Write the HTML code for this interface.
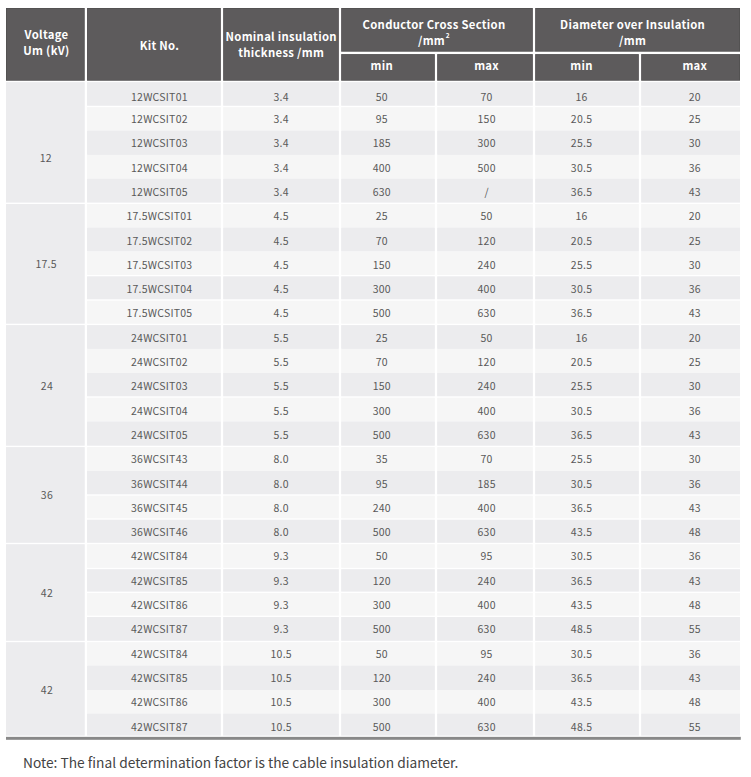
<!DOCTYPE html>
<html><head><meta charset="utf-8"><style>
html,body{margin:0;padding:0;background:#fff;width:751px;height:777px;overflow:hidden;position:relative}
.bg{position:absolute;left:0;top:0}
.t{position:absolute;width:120px;text-align:center;height:0;line-height:0;font-family:"Noto Sans CJK SC","Liberation Sans",sans-serif;font-size:10.5px;letter-spacing:0.25px;text-indent:0.25px;color:#595959;white-space:nowrap}
.h{position:absolute;width:200px;text-align:center;font-family:"Noto Sans CJK SC","Liberation Sans",sans-serif;font-weight:bold;color:#fff;font-size:11.3px;letter-spacing:0.3px;line-height:15.8px;white-space:nowrap}
.h sup{font-size:6.5px;vertical-align:baseline;position:relative;top:-7.4px;margin-left:0.8px;line-height:0}
.note{position:absolute;left:23px;top:752px;font-family:"Noto Sans CJK SC","Liberation Sans",sans-serif;font-size:13.75px;color:#444;white-space:nowrap;line-height:20px}
</style></head><body>
<svg class="bg" width="751" height="777" viewBox="0 0 751 777"><rect x="6.00" y="8.00" width="78.75" height="72.75" fill="#525051"/><rect x="6.80" y="8.80" width="77.15" height="71.15" fill="#5d5b5c"/><rect x="87.05" y="8.00" width="133.80" height="72.75" fill="#525051"/><rect x="87.85" y="8.80" width="132.20" height="71.15" fill="#5d5b5c"/><rect x="223.15" y="8.00" width="115.70" height="72.75" fill="#525051"/><rect x="223.95" y="8.80" width="114.10" height="71.15" fill="#5d5b5c"/><rect x="341.15" y="8.00" width="191.70" height="43.70" fill="#525051"/><rect x="341.95" y="8.80" width="190.10" height="42.10" fill="#5d5b5c"/><rect x="535.15" y="8.00" width="204.85" height="43.70" fill="#525051"/><rect x="535.95" y="8.80" width="203.25" height="42.10" fill="#5d5b5c"/><rect x="341.15" y="54.10" width="93.70" height="26.65" fill="#525051"/><rect x="341.95" y="54.90" width="92.10" height="25.05" fill="#5d5b5c"/><rect x="437.15" y="54.10" width="95.70" height="26.65" fill="#525051"/><rect x="437.95" y="54.90" width="94.10" height="25.05" fill="#5d5b5c"/><rect x="535.15" y="54.10" width="103.70" height="26.65" fill="#525051"/><rect x="535.95" y="54.90" width="102.10" height="25.05" fill="#5d5b5c"/><rect x="641.15" y="54.10" width="98.85" height="26.65" fill="#525051"/><rect x="641.95" y="54.90" width="97.25" height="25.05" fill="#5d5b5c"/><rect x="6.00" y="82.15" width="78.75" height="120.45" fill="#ececee"/><rect x="87.05" y="82.15" width="133.80" height="23.60" fill="#ececee"/><rect x="223.15" y="82.15" width="115.70" height="23.60" fill="#ececee"/><rect x="341.15" y="82.15" width="93.70" height="23.60" fill="#ececee"/><rect x="437.15" y="82.15" width="95.70" height="23.60" fill="#ececee"/><rect x="535.15" y="82.15" width="103.70" height="23.60" fill="#ececee"/><rect x="641.15" y="82.15" width="98.85" height="23.60" fill="#ececee"/><rect x="87.05" y="107.15" width="133.80" height="23.45" fill="#f6f6f6"/><rect x="223.15" y="107.15" width="115.70" height="23.45" fill="#f6f6f6"/><rect x="341.15" y="107.15" width="93.70" height="23.45" fill="#f6f6f6"/><rect x="437.15" y="107.15" width="95.70" height="23.45" fill="#f6f6f6"/><rect x="535.15" y="107.15" width="103.70" height="23.45" fill="#f6f6f6"/><rect x="641.15" y="107.15" width="98.85" height="23.45" fill="#f6f6f6"/><rect x="87.05" y="130.60" width="133.80" height="24.30" fill="#ececee"/><rect x="223.15" y="130.60" width="115.70" height="24.30" fill="#ececee"/><rect x="341.15" y="130.60" width="93.70" height="24.30" fill="#ececee"/><rect x="437.15" y="130.60" width="95.70" height="24.30" fill="#ececee"/><rect x="535.15" y="130.60" width="103.70" height="24.30" fill="#ececee"/><rect x="641.15" y="130.60" width="98.85" height="24.30" fill="#ececee"/><rect x="87.05" y="154.90" width="133.80" height="23.80" fill="#f6f6f6"/><rect x="223.15" y="154.90" width="115.70" height="23.80" fill="#f6f6f6"/><rect x="341.15" y="154.90" width="93.70" height="23.80" fill="#f6f6f6"/><rect x="437.15" y="154.90" width="95.70" height="23.80" fill="#f6f6f6"/><rect x="535.15" y="154.90" width="103.70" height="23.80" fill="#f6f6f6"/><rect x="641.15" y="154.90" width="98.85" height="23.80" fill="#f6f6f6"/><rect x="87.05" y="178.70" width="133.80" height="23.90" fill="#ececee"/><rect x="223.15" y="178.70" width="115.70" height="23.90" fill="#ececee"/><rect x="341.15" y="178.70" width="93.70" height="23.90" fill="#ececee"/><rect x="437.15" y="178.70" width="95.70" height="23.90" fill="#ececee"/><rect x="535.15" y="178.70" width="103.70" height="23.90" fill="#ececee"/><rect x="641.15" y="178.70" width="98.85" height="23.90" fill="#ececee"/><rect x="6.00" y="204.00" width="78.75" height="119.70" fill="#ececee"/><rect x="87.05" y="204.00" width="133.80" height="23.60" fill="#f6f6f6"/><rect x="223.15" y="204.00" width="115.70" height="23.60" fill="#f6f6f6"/><rect x="341.15" y="204.00" width="93.70" height="23.60" fill="#f6f6f6"/><rect x="437.15" y="204.00" width="95.70" height="23.60" fill="#f6f6f6"/><rect x="535.15" y="204.00" width="103.70" height="23.60" fill="#f6f6f6"/><rect x="641.15" y="204.00" width="98.85" height="23.60" fill="#f6f6f6"/><rect x="87.05" y="227.60" width="133.80" height="23.90" fill="#ececee"/><rect x="223.15" y="227.60" width="115.70" height="23.90" fill="#ececee"/><rect x="341.15" y="227.60" width="93.70" height="23.90" fill="#ececee"/><rect x="437.15" y="227.60" width="95.70" height="23.90" fill="#ececee"/><rect x="535.15" y="227.60" width="103.70" height="23.90" fill="#ececee"/><rect x="641.15" y="227.60" width="98.85" height="23.90" fill="#ececee"/><rect x="87.05" y="251.50" width="133.80" height="23.40" fill="#f6f6f6"/><rect x="223.15" y="251.50" width="115.70" height="23.40" fill="#f6f6f6"/><rect x="341.15" y="251.50" width="93.70" height="23.40" fill="#f6f6f6"/><rect x="437.15" y="251.50" width="95.70" height="23.40" fill="#f6f6f6"/><rect x="535.15" y="251.50" width="103.70" height="23.40" fill="#f6f6f6"/><rect x="641.15" y="251.50" width="98.85" height="23.40" fill="#f6f6f6"/><rect x="87.05" y="276.30" width="133.80" height="23.00" fill="#ececee"/><rect x="223.15" y="276.30" width="115.70" height="23.00" fill="#ececee"/><rect x="341.15" y="276.30" width="93.70" height="23.00" fill="#ececee"/><rect x="437.15" y="276.30" width="95.70" height="23.00" fill="#ececee"/><rect x="535.15" y="276.30" width="103.70" height="23.00" fill="#ececee"/><rect x="641.15" y="276.30" width="98.85" height="23.00" fill="#ececee"/><rect x="87.05" y="300.70" width="133.80" height="23.00" fill="#f6f6f6"/><rect x="223.15" y="300.70" width="115.70" height="23.00" fill="#f6f6f6"/><rect x="341.15" y="300.70" width="93.70" height="23.00" fill="#f6f6f6"/><rect x="437.15" y="300.70" width="95.70" height="23.00" fill="#f6f6f6"/><rect x="535.15" y="300.70" width="103.70" height="23.00" fill="#f6f6f6"/><rect x="641.15" y="300.70" width="98.85" height="23.00" fill="#f6f6f6"/><rect x="6.00" y="325.10" width="78.75" height="120.60" fill="#ececee"/><rect x="87.05" y="325.10" width="133.80" height="23.80" fill="#ececee"/><rect x="223.15" y="325.10" width="115.70" height="23.80" fill="#ececee"/><rect x="341.15" y="325.10" width="93.70" height="23.80" fill="#ececee"/><rect x="437.15" y="325.10" width="95.70" height="23.80" fill="#ececee"/><rect x="535.15" y="325.10" width="103.70" height="23.80" fill="#ececee"/><rect x="641.15" y="325.10" width="98.85" height="23.80" fill="#ececee"/><rect x="87.05" y="348.90" width="133.80" height="24.10" fill="#f6f6f6"/><rect x="223.15" y="348.90" width="115.70" height="24.10" fill="#f6f6f6"/><rect x="341.15" y="348.90" width="93.70" height="24.10" fill="#f6f6f6"/><rect x="437.15" y="348.90" width="95.70" height="24.10" fill="#f6f6f6"/><rect x="535.15" y="348.90" width="103.70" height="24.10" fill="#f6f6f6"/><rect x="641.15" y="348.90" width="98.85" height="24.10" fill="#f6f6f6"/><rect x="87.05" y="373.00" width="133.80" height="23.30" fill="#ececee"/><rect x="223.15" y="373.00" width="115.70" height="23.30" fill="#ececee"/><rect x="341.15" y="373.00" width="93.70" height="23.30" fill="#ececee"/><rect x="437.15" y="373.00" width="95.70" height="23.30" fill="#ececee"/><rect x="535.15" y="373.00" width="103.70" height="23.30" fill="#ececee"/><rect x="641.15" y="373.00" width="98.85" height="23.30" fill="#ececee"/><rect x="87.05" y="397.70" width="133.80" height="23.70" fill="#f6f6f6"/><rect x="223.15" y="397.70" width="115.70" height="23.70" fill="#f6f6f6"/><rect x="341.15" y="397.70" width="93.70" height="23.70" fill="#f6f6f6"/><rect x="437.15" y="397.70" width="95.70" height="23.70" fill="#f6f6f6"/><rect x="535.15" y="397.70" width="103.70" height="23.70" fill="#f6f6f6"/><rect x="641.15" y="397.70" width="98.85" height="23.70" fill="#f6f6f6"/><rect x="87.05" y="421.40" width="133.80" height="24.30" fill="#ececee"/><rect x="223.15" y="421.40" width="115.70" height="24.30" fill="#ececee"/><rect x="341.15" y="421.40" width="93.70" height="24.30" fill="#ececee"/><rect x="437.15" y="421.40" width="95.70" height="24.30" fill="#ececee"/><rect x="535.15" y="421.40" width="103.70" height="24.30" fill="#ececee"/><rect x="641.15" y="421.40" width="98.85" height="24.30" fill="#ececee"/><rect x="6.00" y="447.10" width="78.75" height="95.70" fill="#ececee"/><rect x="87.05" y="447.10" width="133.80" height="23.90" fill="#f6f6f6"/><rect x="223.15" y="447.10" width="115.70" height="23.90" fill="#f6f6f6"/><rect x="341.15" y="447.10" width="93.70" height="23.90" fill="#f6f6f6"/><rect x="437.15" y="447.10" width="95.70" height="23.90" fill="#f6f6f6"/><rect x="535.15" y="447.10" width="103.70" height="23.90" fill="#f6f6f6"/><rect x="641.15" y="447.10" width="98.85" height="23.90" fill="#f6f6f6"/><rect x="87.05" y="471.00" width="133.80" height="23.30" fill="#ececee"/><rect x="223.15" y="471.00" width="115.70" height="23.30" fill="#ececee"/><rect x="341.15" y="471.00" width="93.70" height="23.30" fill="#ececee"/><rect x="437.15" y="471.00" width="95.70" height="23.30" fill="#ececee"/><rect x="535.15" y="471.00" width="103.70" height="23.30" fill="#ececee"/><rect x="641.15" y="471.00" width="98.85" height="23.30" fill="#ececee"/><rect x="87.05" y="495.70" width="133.80" height="22.60" fill="#f6f6f6"/><rect x="223.15" y="495.70" width="115.70" height="22.60" fill="#f6f6f6"/><rect x="341.15" y="495.70" width="93.70" height="22.60" fill="#f6f6f6"/><rect x="437.15" y="495.70" width="95.70" height="22.60" fill="#f6f6f6"/><rect x="535.15" y="495.70" width="103.70" height="22.60" fill="#f6f6f6"/><rect x="641.15" y="495.70" width="98.85" height="22.60" fill="#f6f6f6"/><rect x="87.05" y="519.70" width="133.80" height="23.10" fill="#ececee"/><rect x="223.15" y="519.70" width="115.70" height="23.10" fill="#ececee"/><rect x="341.15" y="519.70" width="93.70" height="23.10" fill="#ececee"/><rect x="437.15" y="519.70" width="95.70" height="23.10" fill="#ececee"/><rect x="535.15" y="519.70" width="103.70" height="23.10" fill="#ececee"/><rect x="641.15" y="519.70" width="98.85" height="23.10" fill="#ececee"/><rect x="6.00" y="544.20" width="78.75" height="96.60" fill="#ececee"/><rect x="87.05" y="544.20" width="133.80" height="23.60" fill="#f6f6f6"/><rect x="223.15" y="544.20" width="115.70" height="23.60" fill="#f6f6f6"/><rect x="341.15" y="544.20" width="93.70" height="23.60" fill="#f6f6f6"/><rect x="437.15" y="544.20" width="95.70" height="23.60" fill="#f6f6f6"/><rect x="535.15" y="544.20" width="103.70" height="23.60" fill="#f6f6f6"/><rect x="641.15" y="544.20" width="98.85" height="23.60" fill="#f6f6f6"/><rect x="87.05" y="569.20" width="133.80" height="22.40" fill="#ececee"/><rect x="223.15" y="569.20" width="115.70" height="22.40" fill="#ececee"/><rect x="341.15" y="569.20" width="93.70" height="22.40" fill="#ececee"/><rect x="437.15" y="569.20" width="95.70" height="22.40" fill="#ececee"/><rect x="535.15" y="569.20" width="103.70" height="22.40" fill="#ececee"/><rect x="641.15" y="569.20" width="98.85" height="22.40" fill="#ececee"/><rect x="87.05" y="593.00" width="133.80" height="22.60" fill="#f6f6f6"/><rect x="223.15" y="593.00" width="115.70" height="22.60" fill="#f6f6f6"/><rect x="341.15" y="593.00" width="93.70" height="22.60" fill="#f6f6f6"/><rect x="437.15" y="593.00" width="95.70" height="22.60" fill="#f6f6f6"/><rect x="535.15" y="593.00" width="103.70" height="22.60" fill="#f6f6f6"/><rect x="641.15" y="593.00" width="98.85" height="22.60" fill="#f6f6f6"/><rect x="87.05" y="617.00" width="133.80" height="23.80" fill="#ececee"/><rect x="223.15" y="617.00" width="115.70" height="23.80" fill="#ececee"/><rect x="341.15" y="617.00" width="93.70" height="23.80" fill="#ececee"/><rect x="437.15" y="617.00" width="95.70" height="23.80" fill="#ececee"/><rect x="535.15" y="617.00" width="103.70" height="23.80" fill="#ececee"/><rect x="641.15" y="617.00" width="98.85" height="23.80" fill="#ececee"/><rect x="6.00" y="642.20" width="78.75" height="93.40" fill="#ececee"/><rect x="87.05" y="642.20" width="133.80" height="23.40" fill="#f6f6f6"/><rect x="223.15" y="642.20" width="115.70" height="23.40" fill="#f6f6f6"/><rect x="341.15" y="642.20" width="93.70" height="23.40" fill="#f6f6f6"/><rect x="437.15" y="642.20" width="95.70" height="23.40" fill="#f6f6f6"/><rect x="535.15" y="642.20" width="103.70" height="23.40" fill="#f6f6f6"/><rect x="641.15" y="642.20" width="98.85" height="23.40" fill="#f6f6f6"/><rect x="87.05" y="665.60" width="133.80" height="24.40" fill="#ececee"/><rect x="223.15" y="665.60" width="115.70" height="24.40" fill="#ececee"/><rect x="341.15" y="665.60" width="93.70" height="24.40" fill="#ececee"/><rect x="437.15" y="665.60" width="95.70" height="24.40" fill="#ececee"/><rect x="535.15" y="665.60" width="103.70" height="24.40" fill="#ececee"/><rect x="641.15" y="665.60" width="98.85" height="24.40" fill="#ececee"/><rect x="87.05" y="690.00" width="133.80" height="23.50" fill="#f6f6f6"/><rect x="223.15" y="690.00" width="115.70" height="23.50" fill="#f6f6f6"/><rect x="341.15" y="690.00" width="93.70" height="23.50" fill="#f6f6f6"/><rect x="437.15" y="690.00" width="95.70" height="23.50" fill="#f6f6f6"/><rect x="535.15" y="690.00" width="103.70" height="23.50" fill="#f6f6f6"/><rect x="641.15" y="690.00" width="98.85" height="23.50" fill="#f6f6f6"/><rect x="87.05" y="713.50" width="133.80" height="22.10" fill="#ececee"/><rect x="223.15" y="713.50" width="115.70" height="22.10" fill="#ececee"/><rect x="341.15" y="713.50" width="93.70" height="22.10" fill="#ececee"/><rect x="437.15" y="713.50" width="95.70" height="22.10" fill="#ececee"/><rect x="535.15" y="713.50" width="103.70" height="22.10" fill="#ececee"/><rect x="641.15" y="713.50" width="98.85" height="22.10" fill="#ececee"/><rect x="6.00" y="736.85" width="734.80" height="2.95" fill="#888888"/></svg>
<div class="t" style="left:-14.40px;top:157.96px">12</div>
<div class="t" style="left:99.30px;top:97.16px">12WCSIT01</div>
<div class="t" style="left:221.10px;top:97.16px">3.4</div>
<div class="t" style="left:321.70px;top:97.16px">50</div>
<div class="t" style="left:426.50px;top:97.16px">70</div>
<div class="t" style="left:521.40px;top:97.16px">16</div>
<div class="t" style="left:634.70px;top:97.16px">20</div>
<div class="t" style="left:99.30px;top:119.06px">12WCSIT02</div>
<div class="t" style="left:221.10px;top:119.06px">3.4</div>
<div class="t" style="left:321.70px;top:119.06px">95</div>
<div class="t" style="left:426.50px;top:119.06px">150</div>
<div class="t" style="left:521.40px;top:119.06px">20.5</div>
<div class="t" style="left:634.70px;top:119.06px">25</div>
<div class="t" style="left:99.30px;top:143.36px">12WCSIT03</div>
<div class="t" style="left:221.10px;top:143.36px">3.4</div>
<div class="t" style="left:321.70px;top:143.36px">185</div>
<div class="t" style="left:426.50px;top:143.36px">300</div>
<div class="t" style="left:521.40px;top:143.36px">25.5</div>
<div class="t" style="left:634.70px;top:143.36px">30</div>
<div class="t" style="left:99.30px;top:167.66px">12WCSIT04</div>
<div class="t" style="left:221.10px;top:167.66px">3.4</div>
<div class="t" style="left:321.70px;top:167.66px">400</div>
<div class="t" style="left:426.50px;top:167.66px">500</div>
<div class="t" style="left:521.40px;top:167.66px">30.5</div>
<div class="t" style="left:634.70px;top:167.66px">36</div>
<div class="t" style="left:99.30px;top:191.96px">12WCSIT05</div>
<div class="t" style="left:221.10px;top:191.96px">3.4</div>
<div class="t" style="left:321.70px;top:191.96px">630</div>
<div class="t" style="left:426.50px;top:191.96px">/</div>
<div class="t" style="left:521.40px;top:191.96px">36.5</div>
<div class="t" style="left:634.70px;top:191.96px">43</div>
<div class="t" style="left:-14.00px;top:263.96px">17.5</div>
<div class="t" style="left:99.30px;top:216.26px">17.5WCSIT01</div>
<div class="t" style="left:221.10px;top:216.26px">4.5</div>
<div class="t" style="left:321.70px;top:216.26px">25</div>
<div class="t" style="left:426.50px;top:216.26px">50</div>
<div class="t" style="left:521.40px;top:216.26px">16</div>
<div class="t" style="left:634.70px;top:216.26px">20</div>
<div class="t" style="left:99.30px;top:240.56px">17.5WCSIT02</div>
<div class="t" style="left:221.10px;top:240.56px">4.5</div>
<div class="t" style="left:321.70px;top:240.56px">70</div>
<div class="t" style="left:426.50px;top:240.56px">120</div>
<div class="t" style="left:521.40px;top:240.56px">20.5</div>
<div class="t" style="left:634.70px;top:240.56px">25</div>
<div class="t" style="left:99.30px;top:264.86px">17.5WCSIT03</div>
<div class="t" style="left:221.10px;top:264.86px">4.5</div>
<div class="t" style="left:321.70px;top:264.86px">150</div>
<div class="t" style="left:426.50px;top:264.86px">240</div>
<div class="t" style="left:521.40px;top:264.86px">25.5</div>
<div class="t" style="left:634.70px;top:264.86px">30</div>
<div class="t" style="left:99.30px;top:289.16px">17.5WCSIT04</div>
<div class="t" style="left:221.10px;top:289.16px">4.5</div>
<div class="t" style="left:321.70px;top:289.16px">300</div>
<div class="t" style="left:426.50px;top:289.16px">400</div>
<div class="t" style="left:521.40px;top:289.16px">30.5</div>
<div class="t" style="left:634.70px;top:289.16px">36</div>
<div class="t" style="left:99.30px;top:313.46px">17.5WCSIT05</div>
<div class="t" style="left:221.10px;top:313.46px">4.5</div>
<div class="t" style="left:321.70px;top:313.46px">500</div>
<div class="t" style="left:426.50px;top:313.46px">630</div>
<div class="t" style="left:521.40px;top:313.46px">36.5</div>
<div class="t" style="left:634.70px;top:313.46px">43</div>
<div class="t" style="left:-13.20px;top:385.56px">24</div>
<div class="t" style="left:99.30px;top:337.76px">24WCSIT01</div>
<div class="t" style="left:221.10px;top:337.76px">5.5</div>
<div class="t" style="left:321.70px;top:337.76px">25</div>
<div class="t" style="left:426.50px;top:337.76px">50</div>
<div class="t" style="left:521.40px;top:337.76px">16</div>
<div class="t" style="left:634.70px;top:337.76px">20</div>
<div class="t" style="left:99.30px;top:362.06px">24WCSIT02</div>
<div class="t" style="left:221.10px;top:362.06px">5.5</div>
<div class="t" style="left:321.70px;top:362.06px">70</div>
<div class="t" style="left:426.50px;top:362.06px">120</div>
<div class="t" style="left:521.40px;top:362.06px">20.5</div>
<div class="t" style="left:634.70px;top:362.06px">25</div>
<div class="t" style="left:99.30px;top:386.36px">24WCSIT03</div>
<div class="t" style="left:221.10px;top:386.36px">5.5</div>
<div class="t" style="left:321.70px;top:386.36px">150</div>
<div class="t" style="left:426.50px;top:386.36px">240</div>
<div class="t" style="left:521.40px;top:386.36px">25.5</div>
<div class="t" style="left:634.70px;top:386.36px">30</div>
<div class="t" style="left:99.30px;top:410.66px">24WCSIT04</div>
<div class="t" style="left:221.10px;top:410.66px">5.5</div>
<div class="t" style="left:321.70px;top:410.66px">300</div>
<div class="t" style="left:426.50px;top:410.66px">400</div>
<div class="t" style="left:521.40px;top:410.66px">30.5</div>
<div class="t" style="left:634.70px;top:410.66px">36</div>
<div class="t" style="left:99.30px;top:434.96px">24WCSIT05</div>
<div class="t" style="left:221.10px;top:434.96px">5.5</div>
<div class="t" style="left:321.70px;top:434.96px">500</div>
<div class="t" style="left:426.50px;top:434.96px">630</div>
<div class="t" style="left:521.40px;top:434.96px">36.5</div>
<div class="t" style="left:634.70px;top:434.96px">43</div>
<div class="t" style="left:-13.20px;top:494.56px">36</div>
<div class="t" style="left:99.30px;top:459.26px">36WCSIT43</div>
<div class="t" style="left:221.10px;top:459.26px">8.0</div>
<div class="t" style="left:321.70px;top:459.26px">35</div>
<div class="t" style="left:426.50px;top:459.26px">70</div>
<div class="t" style="left:521.40px;top:459.26px">25.5</div>
<div class="t" style="left:634.70px;top:459.26px">30</div>
<div class="t" style="left:99.30px;top:483.56px">36WCSIT44</div>
<div class="t" style="left:221.10px;top:483.56px">8.0</div>
<div class="t" style="left:321.70px;top:483.56px">95</div>
<div class="t" style="left:426.50px;top:483.56px">185</div>
<div class="t" style="left:521.40px;top:483.56px">30.5</div>
<div class="t" style="left:634.70px;top:483.56px">36</div>
<div class="t" style="left:99.30px;top:507.86px">36WCSIT45</div>
<div class="t" style="left:221.10px;top:507.86px">8.0</div>
<div class="t" style="left:321.70px;top:507.86px">240</div>
<div class="t" style="left:426.50px;top:507.86px">400</div>
<div class="t" style="left:521.40px;top:507.86px">36.5</div>
<div class="t" style="left:634.70px;top:507.86px">43</div>
<div class="t" style="left:99.30px;top:532.16px">36WCSIT46</div>
<div class="t" style="left:221.10px;top:532.16px">8.0</div>
<div class="t" style="left:321.70px;top:532.16px">500</div>
<div class="t" style="left:426.50px;top:532.16px">630</div>
<div class="t" style="left:521.40px;top:532.16px">43.5</div>
<div class="t" style="left:634.70px;top:532.16px">48</div>
<div class="t" style="left:-13.20px;top:592.56px">42</div>
<div class="t" style="left:99.30px;top:556.46px">42WCSIT84</div>
<div class="t" style="left:221.10px;top:556.46px">9.3</div>
<div class="t" style="left:321.70px;top:556.46px">50</div>
<div class="t" style="left:426.50px;top:556.46px">95</div>
<div class="t" style="left:521.40px;top:556.46px">30.5</div>
<div class="t" style="left:634.70px;top:556.46px">36</div>
<div class="t" style="left:99.30px;top:580.76px">42WCSIT85</div>
<div class="t" style="left:221.10px;top:580.76px">9.3</div>
<div class="t" style="left:321.70px;top:580.76px">120</div>
<div class="t" style="left:426.50px;top:580.76px">240</div>
<div class="t" style="left:521.40px;top:580.76px">36.5</div>
<div class="t" style="left:634.70px;top:580.76px">43</div>
<div class="t" style="left:99.30px;top:605.06px">42WCSIT86</div>
<div class="t" style="left:221.10px;top:605.06px">9.3</div>
<div class="t" style="left:321.70px;top:605.06px">300</div>
<div class="t" style="left:426.50px;top:605.06px">400</div>
<div class="t" style="left:521.40px;top:605.06px">43.5</div>
<div class="t" style="left:634.70px;top:605.06px">48</div>
<div class="t" style="left:99.30px;top:629.36px">42WCSIT87</div>
<div class="t" style="left:221.10px;top:629.36px">9.3</div>
<div class="t" style="left:321.70px;top:629.36px">500</div>
<div class="t" style="left:426.50px;top:629.36px">630</div>
<div class="t" style="left:521.40px;top:629.36px">48.5</div>
<div class="t" style="left:634.70px;top:629.36px">55</div>
<div class="t" style="left:-13.20px;top:689.56px">42</div>
<div class="t" style="left:99.30px;top:653.66px">42WCSIT84</div>
<div class="t" style="left:221.10px;top:653.66px">10.5</div>
<div class="t" style="left:321.70px;top:653.66px">50</div>
<div class="t" style="left:426.50px;top:653.66px">95</div>
<div class="t" style="left:521.40px;top:653.66px">30.5</div>
<div class="t" style="left:634.70px;top:653.66px">36</div>
<div class="t" style="left:99.30px;top:677.96px">42WCSIT85</div>
<div class="t" style="left:221.10px;top:677.96px">10.5</div>
<div class="t" style="left:321.70px;top:677.96px">120</div>
<div class="t" style="left:426.50px;top:677.96px">240</div>
<div class="t" style="left:521.40px;top:677.96px">36.5</div>
<div class="t" style="left:634.70px;top:677.96px">43</div>
<div class="t" style="left:99.30px;top:702.26px">42WCSIT86</div>
<div class="t" style="left:221.10px;top:702.26px">10.5</div>
<div class="t" style="left:321.70px;top:702.26px">300</div>
<div class="t" style="left:426.50px;top:702.26px">400</div>
<div class="t" style="left:521.40px;top:702.26px">43.5</div>
<div class="t" style="left:634.70px;top:702.26px">48</div>
<div class="t" style="left:99.30px;top:726.56px">42WCSIT87</div>
<div class="t" style="left:221.10px;top:726.56px">10.5</div>
<div class="t" style="left:321.70px;top:726.56px">500</div>
<div class="t" style="left:426.50px;top:726.56px">630</div>
<div class="t" style="left:521.40px;top:726.56px">48.5</div>
<div class="t" style="left:634.70px;top:726.56px">55</div>
<div class="h" style="left:-53.5px;top:27px">Voltage<br>Um (kV)</div>
<div class="h" style="left:59.5px;top:38px">Kit No.</div>
<div class="h" style="left:181.2px;top:29px">Nominal insulation<br>thickness /mm</div>
<div class="h" style="left:334px;top:16.4px;line-height:16.0px">Conductor Cross Section<br>/mm<sup>2</sup></div>
<div class="h" style="left:532.6px;top:16.4px;line-height:16.0px">Diameter over Insulation<br>/mm</div>
<div class="h" style="left:281.8px;top:58px">min</div>
<div class="h" style="left:386.6px;top:58px">max</div>
<div class="h" style="left:481.5px;top:58px">min</div>
<div class="h" style="left:594.8px;top:58px">max</div>
<div class="note">Note: The final determination factor is the cable insulation diameter.</div>
</body></html>
